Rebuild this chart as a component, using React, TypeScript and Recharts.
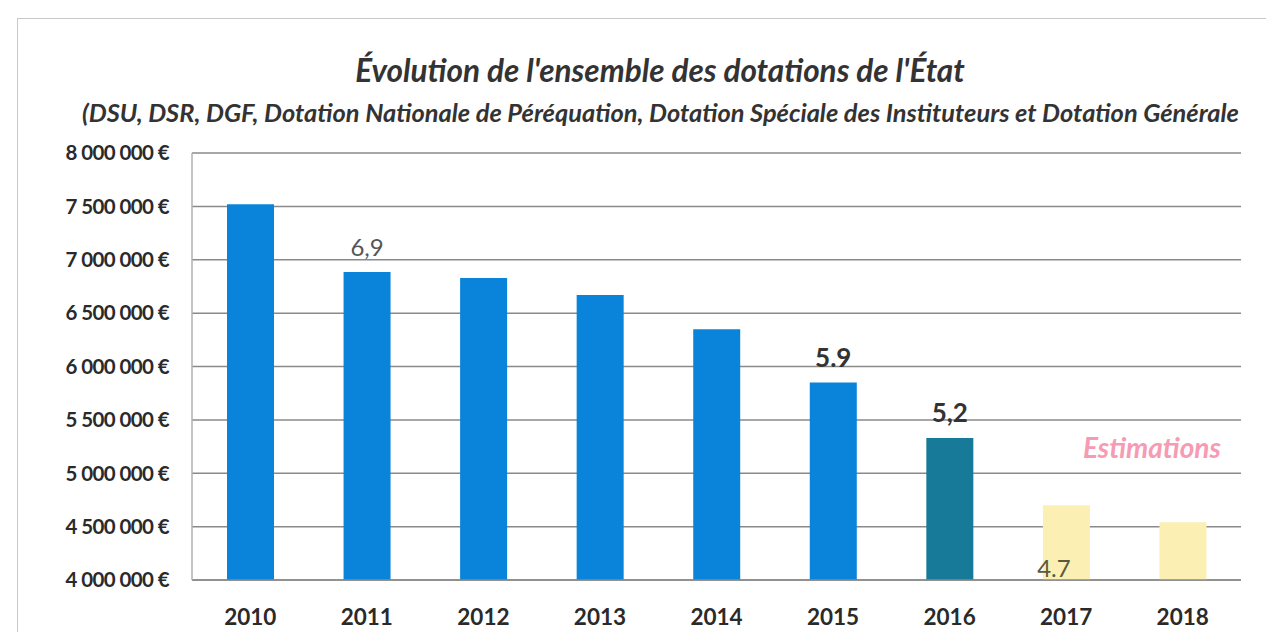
import { ComposedChart, Bar, Cell, XAxis, YAxis, CartesianGrid, LabelList } from 'recharts';

const years = ['2010', '2011', '2012', '2013', '2014', '2015', '2016', '2017', '2018'];
const dotations = [7520000, 6885000, 6830000, 6670000, 6350000, 5850000, 5330000, 4700000, 4540000];
const barLabels = ['', '6,9', '', '', '', '5.9', '5,2', '4.7', ''];
const yTicks = [4000000, 4500000, 5000000, 5500000, 6000000, 6500000, 7000000, 7500000, 8000000];

const BLUE = '#0a84da';
const TEAL = '#167a98';
const PALE = '#fbefb4';
const barColors = [BLUE, BLUE, BLUE, BLUE, BLUE, BLUE, TEAL, PALE, PALE];

const data = years.map((year, i) => ({ year, value: dotations[i], label: barLabels[i] }));

const FONT = 'Lato, "Open Sans", sans-serif';

const formatEuro = (v: number) => `${v.toLocaleString('fr-FR').replace(/\s/g, ' ')} €`;

// labels: above the bar, except 2017 which sits inside near the bottom
function BarLabel(props: any) {
  const { x, y, width, height, value, index } = props;
  if (!value) return null;
  if (index === 7) {
    return (
      <text x={x + 11} y={y + height - 3} fill="#5a5a3c" fontSize={24} fontFamily={FONT} textAnchor="middle">
        {value}
      </text>
    );
  }
  return (
    <text
      x={x + width / 2}
      y={y - 16}
      fill={index === 1 ? '#555' : '#333'}
      fontSize={index === 1 ? 24 : 26}
      fontWeight={index === 1 ? 400 : 700}
      fontFamily={FONT}
      textAnchor="middle"
    >
      {value}
    </text>
  );
}

export default function App() {
  return (
    <div style={{ position: 'relative', width: 1266, height: 632, background: '#fff', fontFamily: FONT, overflow: 'hidden' }}>
      <style>{'body{margin:0;overflow:hidden}'}</style>
      {/* frame */}
      <div style={{ position: 'absolute', left: 17, top: 18, width: 1260, height: 640, border: '1.5px solid #c8c8c8' }} />
      <div
        style={{
          position: 'absolute',
          left: 0,
          width: 1320,
          top: 51,
          textAlign: 'center',
          fontSize: 31.5,
          fontWeight: 700,
          fontStyle: 'italic',
          color: '#333',
        }}
      >
        Évolution de l'ensemble des dotations de l'État
      </div>
      <div
        style={{
          position: 'absolute',
          left: 82,
          top: 97,
          fontSize: 25.4,
          fontWeight: 700,
          fontStyle: 'italic',
          color: '#333',
          whiteSpace: 'nowrap',
        }}
      >
        (DSU, DSR, DGF, Dotation Nationale de Péréquation, Dotation Spéciale des Instituteurs et Dotation Générale
      </div>
      <div
        style={{
          position: 'absolute',
          left: 1083,
          top: 430,
          fontSize: 28,
          fontWeight: 700,
          fontStyle: 'italic',
          color: '#f79ab4',
        }}
      >
        Estimations
      </div>
      <div style={{ position: 'absolute', left: 0, top: 0 }}>
        <ComposedChart width={1266} height={632} data={data} margin={{ top: 153, right: 25, left: 17, bottom: 12 }}>
          <CartesianGrid vertical={false} stroke="#8a8a8a" strokeWidth={1.5} />
          <XAxis
            dataKey="year"
            height={40}
            tickLine={false}
            axisLine={{ stroke: '#8a8a8a', strokeWidth: 1.5 }}
            tick={{ fontSize: 22.5, fontWeight: 700, fill: '#2a2a2a', fontFamily: FONT }}
            tickMargin={23}
          />
          <YAxis
            width={175}
            domain={[4000000, 8000000]}
            ticks={yTicks}
            interval={0}
            tickFormatter={formatEuro}
            tickLine={false}
            axisLine={{ stroke: '#b0b0b0', strokeWidth: 1.5 }}
            tick={{ fontSize: 20.5, fontWeight: 700, fill: '#2a2a2a', fontFamily: FONT, letterSpacing: -0.6 }}
            tickMargin={17}
          />
          <Bar dataKey="value" barSize={47} isAnimationActive={false}>
            {data.map((d, i) => (
              <Cell key={d.year} fill={barColors[i]} />
            ))}
            <LabelList dataKey="label" content={BarLabel} />
          </Bar>
        </ComposedChart>
      </div>
    </div>
  );
}
